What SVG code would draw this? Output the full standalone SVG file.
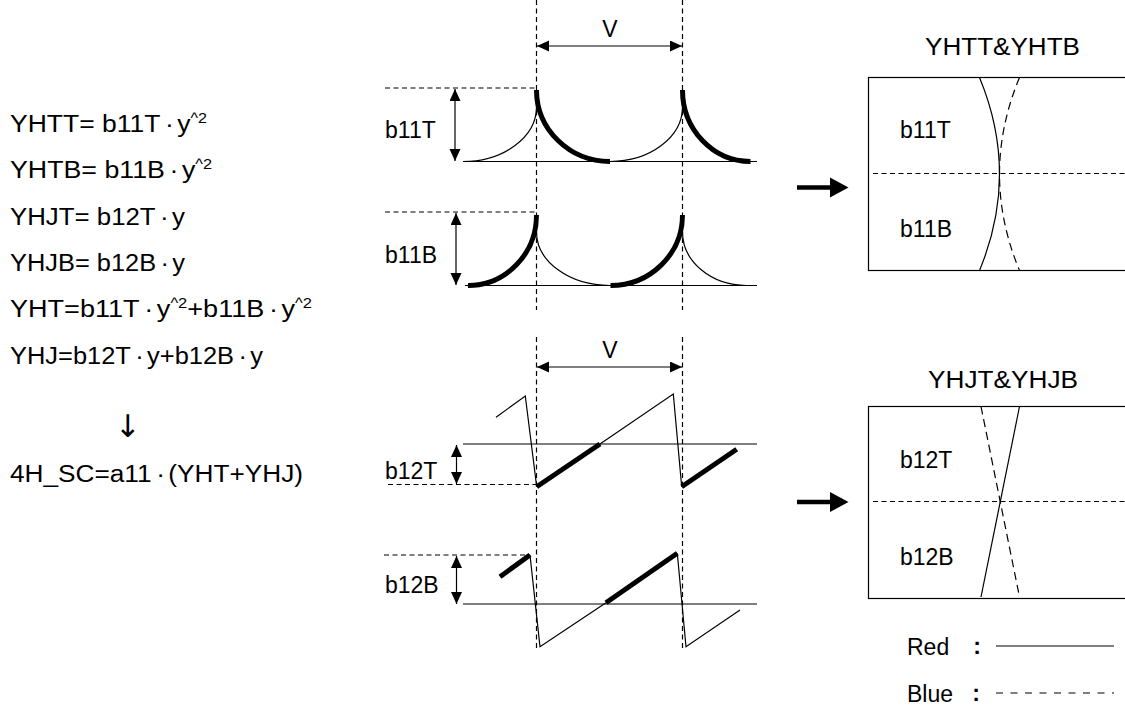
<svg xmlns="http://www.w3.org/2000/svg" width="1125" height="708" viewBox="0 0 1125 708">
<style>
text{font-family:"Liberation Sans",Arial,sans-serif;font-size:23px;fill:#000}
.sup{font-size:14px}
.thin{fill:none;stroke:#000;stroke-width:1.2}
.thick{fill:none;stroke:#000;stroke-width:5}
.dash{fill:none;stroke:#000;stroke-width:1.2;stroke-dasharray:5 3.5}
.bdash{fill:none;stroke:#000;stroke-width:1.2;stroke-dasharray:8 5}
.dim{fill:none;stroke:#000;stroke-width:1.2;marker-start:url(#ah);marker-end:url(#ah)}
</style>
<defs>
<marker id="ah" markerUnits="userSpaceOnUse" markerWidth="13" markerHeight="12" refX="12" refY="5.5" orient="auto-start-reverse" viewBox="0 0 13 12">
<path d="M0,0 L12,5.5 L0,11 z" fill="#000"/>
</marker>
</defs>
<rect width="1125" height="708" fill="#fff"/>

<g id="formulas">
<text x="10" y="132" textLength="197" lengthAdjust="spacingAndGlyphs">YHTT= b11T<tspan dx="4">·</tspan><tspan dx="3">y</tspan><tspan class="sup" dy="-9">^2</tspan></text>
<text x="10" y="178" textLength="202" lengthAdjust="spacingAndGlyphs">YHTB= b11B<tspan dx="4">·</tspan><tspan dx="3">y</tspan><tspan class="sup" dy="-9">^2</tspan></text>
<text x="10" y="225" textLength="175" lengthAdjust="spacingAndGlyphs">YHJT= b12T<tspan dx="4">·</tspan><tspan dx="3">y</tspan></text>
<text x="10" y="271" textLength="175" lengthAdjust="spacingAndGlyphs">YHJB= b12B<tspan dx="4">·</tspan><tspan dx="3">y</tspan></text>
<text x="10" y="317" textLength="302" lengthAdjust="spacingAndGlyphs">YHT=b11T<tspan dx="4">·</tspan><tspan dx="3">y</tspan><tspan class="sup" dy="-9">^2</tspan><tspan dy="9">+b11B</tspan><tspan dx="4">·</tspan><tspan dx="3">y</tspan><tspan class="sup" dy="-9">^2</tspan></text>
<text x="10" y="364" textLength="253" lengthAdjust="spacingAndGlyphs">YHJ=b12T<tspan dx="4">·</tspan><tspan dx="3">y+b12B</tspan><tspan dx="4">·</tspan><tspan dx="3">y</tspan></text>
<text x="128" y="437" text-anchor="middle" style="font-family:'DejaVu Sans',sans-serif;font-size:31px">↓</text>
<text x="10" y="482" textLength="293" lengthAdjust="spacingAndGlyphs">4H_SC=a11<tspan dx="4">·</tspan><tspan dx="3">(YHT+YHJ)</tspan></text>
</g>

<g id="connectors">
<line class="dash" x1="536.5" y1="0" x2="536.5" y2="310"/>
<line class="dash" x1="682.5" y1="0" x2="682.5" y2="310"/>
<line class="dim" x1="537" y1="46" x2="682" y2="46"/>
<line class="dash" x1="536.5" y1="337" x2="536.5" y2="650"/>
<line class="dash" x1="682.5" y1="337" x2="682.5" y2="650"/>
<line class="dim" x1="537" y1="367" x2="682" y2="367"/>
</g>

<g id="v-labels">
<text x="610" y="37" text-anchor="middle">V</text>
<text x="610" y="358" text-anchor="middle">V</text>
</g>

<g id="b11T-wave">
<line class="dash" x1="385" y1="88" x2="536" y2="88"/>
<line class="dim" x1="455" y1="89" x2="455" y2="161"/>
<text x="385" y="138">b11T</text>
<line class="thin" x1="463" y1="161.5" x2="757" y2="161.5"/>
<path class="thin" d="M463,161.5 A73.5 54.5 0 0 0 536.5,107"/>
<path class="thin" d="M610,161.5 A72.5 54.5 0 0 0 682.5,107"/>
<path class="thick" d="M536.5,90 A73.5 71.5 0 0 0 610,161.5"/>
<path class="thick" d="M682.5,90 A68 71.5 0 0 0 750.5,161.5"/>
</g>

<g id="b11B-wave">
<line class="dash" x1="385" y1="212" x2="536" y2="212"/>
<line class="dim" x1="456" y1="213" x2="456" y2="285"/>
<text x="385" y="263">b11B</text>
<line class="thin" x1="465" y1="285.5" x2="757" y2="285.5"/>
<path class="thin" d="M536.5,232 A73.5 53.5 0 0 0 610,285.5"/>
<path class="thin" d="M682.5,232 A64 53.5 0 0 0 746.5,285.5"/>
<path class="thick" d="M468,285.5 A68.5 70.5 0 0 0 536.5,215"/>
<path class="thick" d="M610.5,285.5 A72 70.5 0 0 0 682.5,215"/>
</g>

<g id="b12T-wave">
<line class="thin" x1="463" y1="444" x2="757" y2="444"/>
<line class="dash" x1="388" y1="484.5" x2="536" y2="484.5"/>
<line class="dim" x1="456.5" y1="445" x2="456.5" y2="484"/>
<text x="385" y="479">b12T</text>
<polyline class="thin" points="496,417.3 525.3,396 536.7,486.7"/>
<polyline class="thin" points="600,444 673.3,394 681.7,486.7"/>
<line class="thick" x1="536.7" y1="486.7" x2="600" y2="444"/>
<line class="thick" x1="681.7" y1="486.7" x2="736.7" y2="449.3"/>
</g>

<g id="b12B-wave">
<line class="dash" x1="384" y1="555" x2="530" y2="555"/>
<line class="dim" x1="456.5" y1="556" x2="456.5" y2="604"/>
<text x="385" y="593">b12B</text>
<line class="thin" x1="463" y1="604" x2="757" y2="604"/>
<polyline class="thin" points="530,555 540,646.7 606,602.7"/>
<polyline class="thin" points="677.3,553.3 686,646.7 740,610"/>
<line class="thick" x1="500" y1="576.7" x2="530" y2="555"/>
<line class="thick" x1="606" y1="602.7" x2="677.3" y2="553.3"/>
</g>

<g id="arrow-top">
<line x1="797" y1="187.5" x2="832" y2="187.5" stroke="#000" stroke-width="4.5"/>
<polygon points="830,177.5 848.5,187.5 830,197.5" fill="#000"/>
</g>
<g id="arrow-bottom">
<line x1="797" y1="502" x2="832" y2="502" stroke="#000" stroke-width="4.5"/>
<polygon points="830,492 848.5,502 830,512" fill="#000"/>
</g>

<g id="box-YHT">
<text x="1002.5" y="55" text-anchor="middle" textLength="155" lengthAdjust="spacingAndGlyphs">YHTT&amp;YHTB</text>
<rect class="thin" x="868.5" y="77.5" width="300" height="193"/>
<line class="dash" x1="873" y1="173.5" x2="1125" y2="173.5"/>
<text x="900" y="138">b11T</text>
<text x="900" y="237">b11B</text>
<path class="thin" d="M979.5,77.5 Q1019.5,174 979.5,270.5"/>
<path class="bdash" d="M1019.5,77.5 Q979.5,174 1019.5,270.5"/>
</g>

<g id="box-YHJ">
<text x="1003" y="388" text-anchor="middle" textLength="150" lengthAdjust="spacingAndGlyphs">YHJT&amp;YHJB</text>
<rect class="thin" x="868.5" y="406.5" width="300" height="192"/>
<line class="dash" x1="873" y1="501.5" x2="1125" y2="501.5"/>
<text x="900" y="468">b12T</text>
<text x="900" y="565">b12B</text>
<line class="thin" x1="1019.5" y1="406.5" x2="981" y2="597"/>
<line class="bdash" x1="981" y1="406.5" x2="1019.5" y2="597"/>
</g>

<g id="legend">
<text x="907" y="655">Red</text>
<text x="977" y="654" text-anchor="middle" font-weight="bold">:</text>
<line class="thin" x1="996" y1="646" x2="1114" y2="646"/>
<text x="907" y="702">Blue</text>
<text x="976" y="701" text-anchor="middle" font-weight="bold">:</text>
<line x1="996" y1="693" x2="1114" y2="693" stroke="#000" stroke-width="1.2" stroke-dasharray="7 7.5"/>
</g>
</svg>
